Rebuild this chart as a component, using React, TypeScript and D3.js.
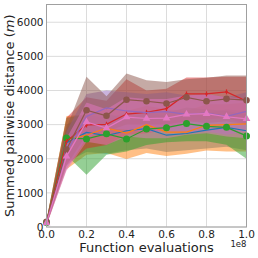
import * as d3 from "d3";

const xVals = [0, 0.1e8, 0.2e8, 0.3e8, 0.4e8, 0.5e8, 0.6e8, 0.7e8, 0.8e8, 0.9e8, 1.0e8];
const xTicks = [0, 0.2e8, 0.4e8, 0.6e8, 0.8e8, 1.0e8];
const xTickLabels = ["0.0", "0.2", "0.4", "0.6", "0.8", "1.0"];
const yTicks = [0, 1000, 2000, 3000, 4000, 5000, 6000];

const blueMean = [120, 2470, 2770, 2680, 2820, 2880, 2690, 2740, 2840, 2920, 2820];
const blueLo = [60, 1900, 2200, 2150, 2250, 2300, 2200, 2250, 2300, 2350, 2250];
const blueHi = [180, 3000, 3300, 3200, 3350, 3400, 3250, 3300, 3350, 3450, 3400];

const orangeMean = [130, 2560, 2690, 2900, 2750, 3000, 2780, 2780, 2980, 3000, 3020];
const orangeLo = [50, 1690, 2120, 2170, 1990, 2170, 2080, 2150, 2240, 2210, 2210];
const orangeHi = [200, 3250, 3300, 3450, 3400, 3550, 3450, 3400, 3600, 3600, 3650];

const greenMean = [130, 2610, 2580, 2730, 2580, 2870, 2910, 3030, 2950, 2920, 2670];
const greenLo = [60, 2100, 1530, 2120, 2210, 2400, 2480, 2510, 2510, 2410, 2000];
const greenHi = [200, 3200, 3300, 3350, 3150, 3350, 3350, 3500, 3450, 3400, 3300];

const redMean = [130, 2510, 2990, 3010, 3310, 3360, 3470, 3900, 3900, 3960, 3690];
const redLo = [60, 1800, 2300, 2400, 2700, 2750, 2850, 3100, 3150, 3200, 3000];
const redHi = [200, 3200, 3800, 3700, 4330, 4000, 4050, 4380, 4380, 4400, 4400];

const purpleMean = [130, 2200, 3240, 3490, 3400, 3350, 3380, 3300, 3340, 3240, 3390];
const purpleLo = [60, 1700, 2600, 2900, 2850, 2800, 2800, 2750, 2800, 2700, 2800];
const purpleHi = [200, 2800, 3900, 4000, 3950, 3900, 3950, 3850, 3900, 3800, 3950];

const brownMean = [150, 2270, 3420, 3260, 3730, 3685, 3620, 3800, 3685, 3755, 3715];
const brownLo = [70, 1800, 2700, 2800, 3000, 3000, 3000, 3100, 3050, 3100, 3000];
const brownHi = [230, 2900, 4400, 3830, 4500, 4300, 4250, 4330, 4370, 4440, 4440];

const pinkMean = [120, 2070, 3080, 2900, 3220, 3180, 3190, 3300, 3320, 3230, 3170];
const pinkLo = [50, 1650, 2500, 2400, 2650, 2600, 2600, 2700, 2750, 2650, 2600];
const pinkHi = [190, 2600, 3650, 3450, 3800, 3750, 3750, 3850, 3900, 3800, 3750];

const series = [
  { color: "#1f77b4", mean: blueMean, lo: blueLo, hi: blueHi, marker: "none" },
  { color: "#ff7f0e", mean: orangeMean, lo: orangeLo, hi: orangeHi, marker: "none" },
  { color: "#2ca02c", mean: greenMean, lo: greenLo, hi: greenHi, marker: "bigcircle" },
  { color: "#d62728", mean: redMean, lo: redLo, hi: redHi, marker: "plus" },
  { color: "#9467bd", mean: purpleMean, lo: purpleLo, hi: purpleHi, marker: "none" },
  { color: "#8c564b", mean: brownMean, lo: brownLo, hi: brownHi, marker: "circle" },
  { color: "#e377c2", mean: pinkMean, lo: pinkLo, hi: pinkHi, marker: "triangle" },
];

const W = 258;
const H = 258;
const margin = { top: 4.5, right: 11.5, bottom: 31, left: 46.5 };

export default function App() {
  const innerW = W - margin.left - margin.right;
  const innerH = H - margin.top - margin.bottom;

  const x = d3.scaleLinear().domain([0, 1e8]).range([0, innerW]);
  const y = d3.scaleLinear().domain([0, 6520]).range([innerH, 0]);

  const font = "DejaVu Sans, sans-serif";
  const tri = d3.symbol().type(d3.symbolTriangle).size(26)();

  return (
    <svg
      width={W}
      height={H}
      style={{ position: "absolute", left: 0, top: 0, background: "#fff" }}
      fontFamily={font}
    >
      <g transform={`translate(${margin.left},${margin.top})`}>
        {/* grid */}
        {xTicks.map((t) => (
          <line key={"gx" + t} x1={x(t)} x2={x(t)} y1={0} y2={innerH} stroke="#dcdcdc" strokeWidth={1} />
        ))}
        {yTicks.map((t) => (
          <line key={"gy" + t} x1={0} x2={innerW} y1={y(t)} y2={y(t)} stroke="#dcdcdc" strokeWidth={1} />
        ))}

        {/* bands */}
        {series.map((s, si) => {
          const area = d3
            .area<number>()
            .x((_, i) => x(xVals[i]))
            .y0((_, i) => y(s.lo[i]))
            .y1((_, i) => y(s.hi[i]));
          return <path key={"band" + si} d={area(s.mean) || ""} fill={s.color} fillOpacity={0.5} stroke="none" />;
        })}

        {/* lines + markers */}
        {series.map((s, si) => {
          const line = d3
            .line<number>()
            .x((_, i) => x(xVals[i]))
            .y((d) => y(d));
          return (
            <g key={"line" + si}>
              <path d={line(s.mean) || ""} fill="none" stroke={s.color} strokeWidth={1.2} />
              {s.mean.map((d, i) => {
                const cx = x(xVals[i]);
                const cy = y(d);
                if (s.marker === "bigcircle") return <circle key={i} cx={cx} cy={cy} r={3.5} fill={s.color} />;
                if (s.marker === "circle") return <circle key={i} cx={cx} cy={cy} r={3.3} fill={s.color} />;
                if (s.marker === "triangle")
                  return <path key={i} d={tri || ""} transform={`translate(${cx},${cy})`} fill={s.color} />;
                if (s.marker === "plus")
                  return (
                    <g key={i} stroke={s.color} strokeWidth={1.2}>
                      <line x1={cx} x2={cx} y1={cy - 2.5} y2={cy + 2.5} />
                      <line x1={cx - 1.5} x2={cx + 1.5} y1={cy} y2={cy} />
                    </g>
                  );
                return null;
              })}
            </g>
          );
        })}

        {/* frame */}
        <rect x={0} y={0} width={innerW} height={innerH} fill="none" stroke="#a0a0a0" strokeWidth={1} />

        {/* ticks */}
        {xTicks.map((t, i) => (
          <text key={"tx" + t} x={x(t)} y={innerH + 11} textAnchor="middle" fontSize={10.5} fill="#222">
            {xTickLabels[i]}
          </text>
        ))}
        {yTicks.map((t) => (
          <text key={"ty" + t} x={-3} y={y(t) + 3.8} textAnchor="end" fontSize={10.5} fill="#222">
            {t}
          </text>
        ))}
        <text x={innerW} y={innerH + 20} textAnchor="end" fontSize={8.5} fill="#222">
          1e8
        </text>

        {/* axis labels */}
        <text x={innerW / 2} y={innerH + 25} textAnchor="middle" fontSize={13} fill="#222">
          Function evaluations
        </text>
        <text
          transform={`translate(${-33},${innerH / 2}) rotate(-90)`}
          textAnchor="middle"
          fontSize={13}
          fill="#222"
        >
          Summed pairwise distance (<tspan fontStyle="italic">m</tspan>)
        </text>
      </g>
    </svg>
  );
}
